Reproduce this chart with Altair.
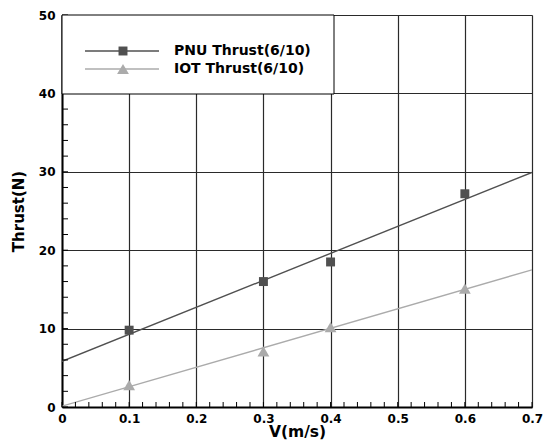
import altair as alt
import pandas as pd

V = [0.1, 0.3, 0.4, 0.6]
pnu = [9.8, 16.0, 18.5, 27.2]
iot = [2.8, 7.1, 10.2, 15.1]
series_names = ["PNU Thrust(6/10)", "IOT Thrust(6/10)"]
x_ticks = [0, 0.1, 0.2, 0.3, 0.4, 0.5, 0.6, 0.7]
x_minor = [round(i * 0.02, 2) for i in range(36)]
y_ticks = [0, 10, 20, 30, 40, 50]
y_minor = list(range(0, 51, 2))

colors = ["#505050", "#ababab"]
shapes = ["square", "triangle-up"]
sizes = [80, 140]

df = pd.DataFrame({
    "V": V * 2,
    "Thrust": pnu + iot,
    "series": [series_names[0]] * len(V) + [series_names[1]] * len(V),
})

W, H = 470, 392
FONT = "DejaVu Sans"

xscale = alt.Scale(domain=[0, 0.7], nice=False)
yscale = alt.Scale(domain=[0, 50], nice=False)
cscale = alt.Scale(domain=series_names, range=colors)
sscale = alt.Scale(domain=series_names, range=shapes)
zscale = alt.Scale(domain=series_names, range=sizes)

base = alt.Chart(df)

xaxis = alt.Axis(values=x_ticks, format="~g", grid=True, gridColor="#2a2a2a", gridWidth=1.2,
                 gridOpacity=1, ticks=False, domainColor="black", domainWidth=2,
                 labelFont=FONT, labelFontWeight="bold", labelFontSize=12, labelColor="black",
                 labelPadding=6, title="V(m/s)", titleFont=FONT, titleFontWeight="bold",
                 titleFontSize=15.5, titleColor="black", titlePadding=0, labelFlush=False)
yaxis = alt.Axis(values=y_ticks, grid=True, gridColor="#2a2a2a", gridWidth=1.2, gridOpacity=1,
                 ticks=False, domainColor="black", domainWidth=2,
                 labelFont=FONT, labelFontWeight="bold", labelFontSize=12, labelColor="black",
                 labelPadding=7, title="Thrust(N)", titleFont=FONT, titleFontWeight="bold",
                 titleFontSize=15, titleColor="black", titlePadding=12, labelFlush=False)

X = lambda f: alt.X(f, scale=xscale, axis=xaxis)
Y = lambda f: alt.Y(f, scale=yscale, axis=yaxis)

lines = base.transform_regression(
    "V", "Thrust", groupby=["series"], extent=[0, 0.7]
).mark_line(strokeWidth=1.4, clip=True).encode(
    x=X("V:Q"),
    y=Y("Thrust:Q"),
    color=alt.Color("series:N", scale=cscale, legend=None),
)

points = base.mark_point(filled=True, opacity=1).encode(
    x=X("V:Q"),
    y=Y("Thrust:Q"),
    color=alt.Color("series:N", scale=cscale, legend=None),
    shape=alt.Shape("series:N", scale=sscale, legend=None),
    size=alt.Size("series:N", scale=zscale, legend=None),
)

# minor ticks (inside)
xm = alt.Chart(pd.DataFrame({"V": x_minor})).mark_rule(color="black", strokeWidth=1).encode(
    x=X("V:Q"),
    y=alt.value(H), y2=alt.value(H - 5),
)
ym = alt.Chart(pd.DataFrame({"Thrust": y_minor})).mark_rule(color="black", strokeWidth=1).encode(
    y=Y("Thrust:Q"),
    x=alt.value(0), x2=alt.value(6),
)

# legend box
one = pd.DataFrame({"a": [0]})
box = alt.Chart(one).mark_rect(fill="white", stroke="black", strokeWidth=1).encode(
    x=alt.value(0), x2=alt.value(272), y=alt.value(0), y2=alt.value(79))

leg_layers = []
leg_y = [36, 54]
for i, name in enumerate(series_names):
    leg_layers.append(alt.Chart(one).mark_rule(color=colors[i], strokeWidth=1.4).encode(
        x=alt.value(23), x2=alt.value(97), y=alt.value(leg_y[i])))
    leg_layers.append(alt.Chart(one).mark_point(filled=True, opacity=1, size=sizes[i],
                                                 shape=shapes[i], color=colors[i]).encode(
        x=alt.value(61), y=alt.value(leg_y[i])))
    leg_layers.append(alt.Chart(pd.DataFrame({"t": [name]})).mark_text(
        align="left", baseline="middle", font=FONT, fontWeight="bold", fontSize=14,
        color="black").encode(x=alt.value(112), y=alt.value(leg_y[i]), text="t:N"))

chart = alt.layer(lines, points, xm, ym, box, *leg_layers).properties(
    width=W, height=H,
    autosize=alt.AutoSizeParams(type="none"),
    padding={"left": 62, "top": 15, "right": 19, "bottom": 36},
).configure_view(stroke="black", strokeWidth=2).configure(background="white")

chart.save("out.html", embed_options={"renderer": "svg", "actions": False})
